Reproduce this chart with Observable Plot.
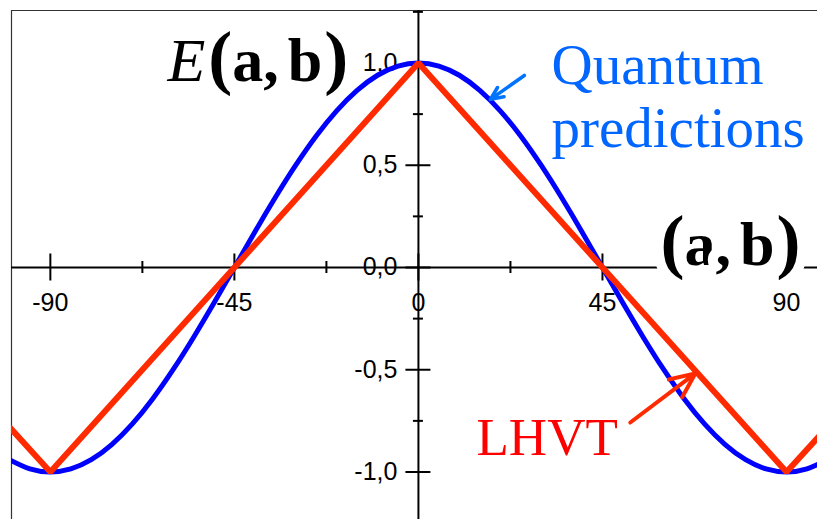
<!DOCTYPE html>
<html>
<head>
<meta charset="utf-8">
<script src="https://cdn.jsdelivr.net/npm/d3@7"></script>
<script src="https://cdn.jsdelivr.net/npm/@observablehq/plot@0.6"></script>
<style>
  html, body { margin: 0; padding: 0; background: #ffffff; overflow: hidden; }
  #chart svg { display: block; }
</style>
</head>
<body>
<div id="chart"></div>
<script>
// ---- data ----
const angles = [-100,-95,-90,-85,-80,-75,-70,-65,-60,-55,-50,-45,-40,-35,-30,-25,-20,-15,-10,-5,0,
                5,10,15,20,25,30,35,40,45,50,55,60,65,70,75,80,85,90,95,100];
const quantum = [-0.940,-0.985,-1.000,-0.985,-0.940,-0.866,-0.766,-0.643,-0.500,-0.342,-0.174,0.000,
                 0.174,0.342,0.500,0.643,0.766,0.866,0.940,0.985,1.000,
                 0.985,0.940,0.866,0.766,0.643,0.500,0.342,0.174,0.000,-0.174,-0.342,-0.500,-0.643,
                 -0.766,-0.866,-0.940,-0.985,-1.000,-0.985,-0.940];
const lhvtAngles = [-100, -90, 0, 90, 100];
const lhvt = [-0.78, -1.0, 1.0, -1.0, -0.78];

const xMajorTicks = [-90, -45, 0, 45, 90];
const xTickLabels = ["-90", "-45", "0", "45", "90"];
const xMinorTicks = [-67.5, -22.5, 22.5, 67.5];
const yMajorTicks = [-1, -0.5, 0, 0.5, 1];
const yTickLabels = ["-1,0", "-0,5", "0,0", "0,5", "1,0"];
const yMinorTicks = [-0.75, -0.25, 0.25, 0.75, 1.25];

// ---- layout ----
const W = 817, H = 519;
const mL = 11, mT = 10;
const xDomain = [-99.5, 97.58];
const yDomain = [-1.2323, 1.2567];
const pxX = (W - mL) / (xDomain[1] - xDomain[0]);
const pxY = (H - mT) / (yDomain[1] - yDomain[0]);

const quantumData = angles.map((a, i) => ({a, e: quantum[i]}));
const lhvtData = lhvtAngles.map((a, i) => ({a, e: lhvt[i]}));
const xMajor = xMajorTicks.map((v, i) => ({v, label: xTickLabels[i]}));
const yMajor = yMajorTicks.map((v, i) => ({v, label: yTickLabels[i]}));

const serif = "'Liberation Serif', 'Times New Roman', serif";
const sans = "'Liberation Sans', Arial, sans-serif";

const plot = Plot.plot({
  width: W, height: H,
  marginLeft: mL, marginTop: mT, marginRight: 0, marginBottom: 0,
  x: {domain: xDomain, axis: null},
  y: {domain: yDomain, axis: null},
  style: {background: "#ffffff", overflow: "hidden"},
  marks: [
    // frame (left & top)
    Plot.ruleX([xDomain[0]], {stroke: "#333", strokeWidth: 1.2}),
    Plot.ruleY([yDomain[1]], {stroke: "#333", strokeWidth: 1.2}),
    // axes through origin
    Plot.ruleY([0], {stroke: "#000", strokeWidth: 2}),
    Plot.ruleX([0], {stroke: "#000", strokeWidth: 2}),
    // x ticks
    Plot.ruleX(xMajor, {x: "v", y1: -13.5 / pxY, y2: 13.5 / pxY, stroke: "#000", strokeWidth: 2}),
    Plot.ruleX(xMinorTicks, {x: d => d, y1: -6 / pxY, y2: 6 / pxY, stroke: "#000", strokeWidth: 2}),
    // y ticks
    Plot.ruleY(yMajor, {y: "v", x1: -12.5 / pxX, x2: 12.5 / pxX, stroke: "#000", strokeWidth: 2}),
    Plot.ruleY(yMinorTicks, {y: d => d, x1: -5 / pxX, x2: 5 / pxX, stroke: "#000", strokeWidth: 2}),
    // tick labels
    Plot.text(xMajor, {x: "v", y: 0, text: "label", dy: 36, fontSize: 25, fontFamily: sans, fill: "#000"}),
    Plot.text(yMajor, {x: 0, y: "v", text: "label", dx: -21, textAnchor: "end", fontSize: 25, fontFamily: sans, fill: "#000"}),
    // curves
    Plot.line(quantumData, {x: "a", y: "e", curve: "natural", stroke: "#0000ff", strokeWidth: 5, clip: true}),
    Plot.line(lhvtData, {x: "a", y: "e", curve: "linear", stroke: "#ff2a00", strokeWidth: 6,
      strokeLinejoin: "miter", strokeLinecap: "butt", clip: true}),
    // axis labels
    Plot.text(["E(a,b)"], {x: -61.36, y: 0.914, text: d => d, textAnchor: "start", lineAnchor: "bottom",
      fontSize: 62, fontFamily: serif, fill: "#000"}),
    Plot.text(["(a,b)"], {x: 59.19, y: 0.01, text: d => d, textAnchor: "start", lineAnchor: "bottom",
      fontSize: 62, fontFamily: serif, fill: "#000", stroke: "#fff", strokeWidth: 20,
      paintOrder: "stroke", strokeLinejoin: "round"}),
    // annotations
    Plot.text(["Quantum"], {x: 32.54, y: 0.8997, text: d => d, textAnchor: "start", lineAnchor: "bottom",
      fontSize: 57, fontFamily: serif, fill: "#0066ff"}),
    Plot.text(["predictions"], {x: 32.54, y: 0.5868, text: d => d, textAnchor: "start", lineAnchor: "bottom",
      fontSize: 57, fontFamily: serif, fill: "#0066ff"}),
    Plot.arrow([{x1: 25.9, y1: 0.939, x2: 17.6, y2: 0.822}], {x1: "x1", y1: "y1", x2: "x2", y2: "y2",
      stroke: "#0073ff", strokeWidth: 3.5, headLength: 13, headAngle: 48}),
    Plot.text(["LHVT"], {x: 14.2, y: -0.919, text: d => d, textAnchor: "start", lineAnchor: "bottom",
      fontSize: 53, fontFamily: serif, fill: "#ff0000"}),
    Plot.arrow([{x1: 51.8, y1: -0.758, x2: 67.7, y2: -0.518}], {x1: "x1", y1: "y1", x2: "x2", y2: "y2",
      stroke: "#ff2a00", strokeWidth: 4, headLength: 15, headAngle: 48})
  ]
});

// mixed styling (italic E, bold a,b) via tspans
function richify(svg, key, parts) {
  d3.select(svg).selectAll("text").filter(function () { return this.textContent === key; }).each(function () {
    const t = d3.select(this);
    t.text(null);
    parts.forEach(p => {
      const s = t.append("tspan").text(p.t);
      if (p.style) s.attr("style", p.style);
      if (p.dx) s.attr("dx", p.dx);
    });
  });
}
richify(plot, "E(a,b)", [
  {t: "E", style: "font-style:italic"},
  {t: "(", style: "font-weight:bold;font-size:72px", dx: 3},
  {t: "a", style: "font-weight:bold"},
  {t: ",", style: "font-weight:bold"},
  {t: "b", style: "font-weight:bold", dx: 9},
  {t: ")", style: "font-weight:bold;font-size:72px", dx: 2}
]);
richify(plot, "(a,b)", [
  {t: "(", style: "font-weight:bold;font-size:72px"},
  {t: "a", style: "font-weight:bold"},
  {t: ",", style: "font-weight:bold"},
  {t: "b", style: "font-weight:bold", dx: 9},
  {t: ")", style: "font-weight:bold;font-size:72px", dx: 2}
]);

document.getElementById("chart").appendChild(plot);
</script>
</body>
</html>
